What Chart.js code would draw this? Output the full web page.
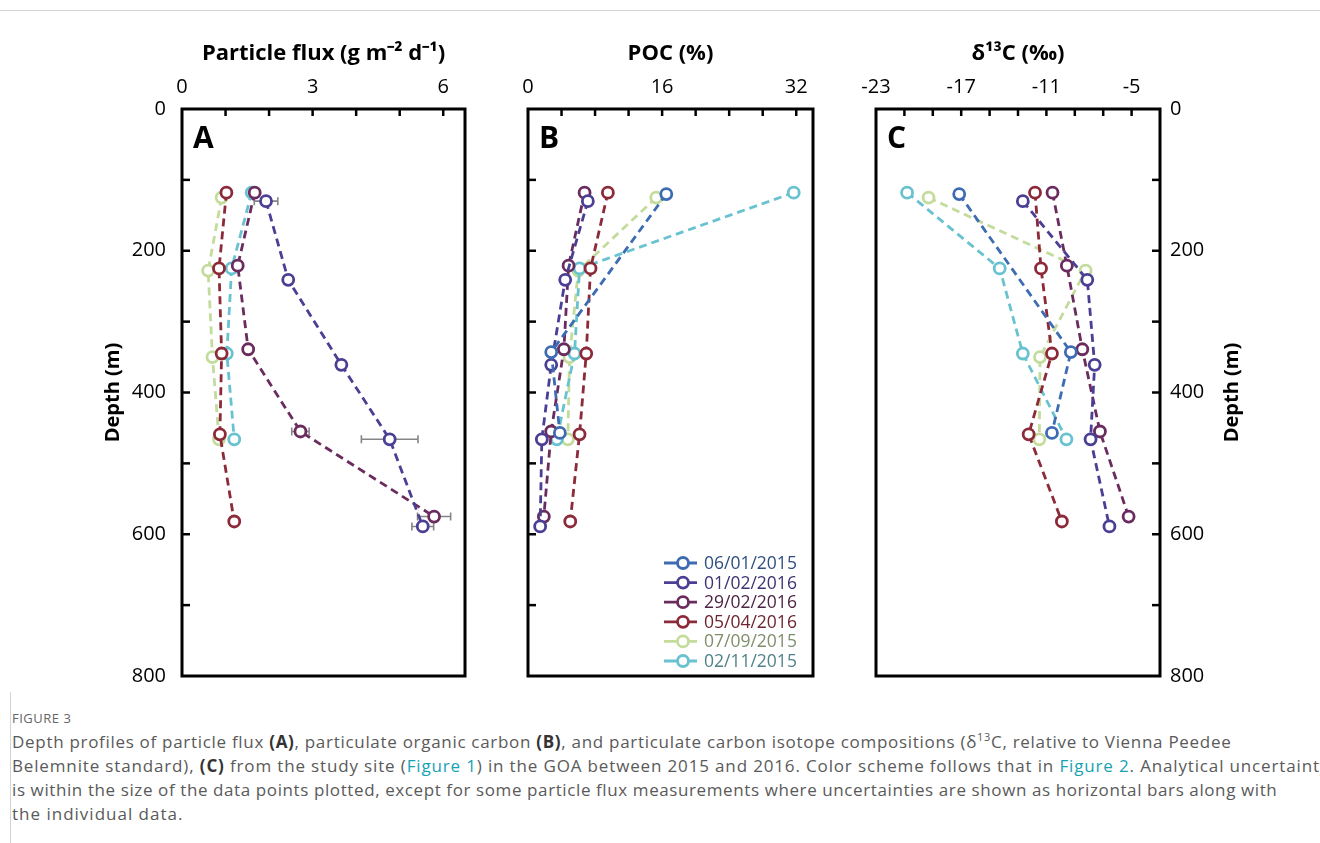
<!DOCTYPE html>
<html>
<head>
<meta charset="utf-8">
<script src="https://cdn.jsdelivr.net/npm/chart.js@4.4.1/dist/chart.umd.min.js"></script>
<style>
  body { margin: 0; background: #fff; }
  #page { position: relative; width: 1320px; height: 843px; overflow: hidden; font-family: "Open Sans", sans-serif; }
  #page canvas { position: absolute; }
  .topline { position: absolute; left: 0; top: 10px; width: 1320px; height: 1px; background: #d4d4d4; }
  .leftline { position: absolute; left: 10px; top: 692px; width: 1px; height: 151px; background: #d4d4d4; }
  .figno { position: absolute; left: 12px; top: 709px; font-size: 13px; color: #666; letter-spacing: 0.5px; }
  .caption { position: absolute; left: 12px; top: 730px; font-size: 17px; line-height: 24px; color: #5a5a5a; white-space: nowrap; letter-spacing: 0.7px; }
  .caption span { display: block; height: 24px; }
  .caption b { color: #333; }
  .caption a { color: #17a2b4; text-decoration: none; }
</style>
</head>
<body>
<div id="page">
  <div class="topline"></div>
  <div class="leftline"></div>
  <canvas id="chartA" width="400" height="674" style="left:80px;top:30px"></canvas>
  <canvas id="chartB" width="350" height="674" style="left:480px;top:30px"></canvas>
  <canvas id="chartC" width="420" height="668" style="left:840px;top:30px"></canvas>
  <div class="figno">FIGURE 3</div>
  <div class="caption">
    <span>Depth profiles of particle flux <b>(A)</b>, particulate organic carbon <b>(B)</b>, and particulate carbon isotope compositions (δ<sup style="font-size:11px;line-height:0">13</sup>C, relative to Vienna Peedee</span>
    <span style="letter-spacing:0.85px">Belemnite standard), <b>(C)</b> from the study site (<a>Figure 1</a>) in the GOA between 2015 and 2016. Color scheme follows that in <a>Figure 2</a>. Analytical uncertainty</span>
    <span style="letter-spacing:0.6px">is within the size of the data points plotted, except for some particle flux measurements where uncertainties are shown as horizontal bars along with</span>
    <span style="letter-spacing:1px">the individual data.</span>
  </div>
</div>
<script>
// sampling dates (legend order)
const seriesLabels = ["06/01/2015", "01/02/2016", "29/02/2016", "05/04/2016", "07/09/2015", "02/11/2015"];
const lineColors = ["#3d6cb3", "#4a3f94", "#6a2c5e", "#8c2a3a", "#c3dc9c", "#68c2cf"];
const legendTextColors = ["#2d4f80", "#3b3373", "#4e2446", "#6e2431", "#7f8f6c", "#4f8389"];
const drawOrder = [0, 1, 2, 3, 5, 4];

// trap depths (m) per cruise
const depthJan15 = [120, 343, 457];
const depthFeb1 = [130, 241, 361, 466, 589];
const depthFeb29 = [118, 221, 339, 455, 575];
const depthApr = [118, 225, 345, 459, 582];
const depthSep = [125, 228, 350, 466];
const depthNov = [118, 225, 345, 466];

// A: particle flux (g m-2 d-1), with uncertainty
const fluxJan15 = null;
const fluxFeb1 = [1.93, 2.44, 3.66, 4.77, 5.53];
const fluxFeb29 = [1.67, 1.28, 1.52, 2.72, 5.79];
const fluxApr = [1.02, 0.85, 0.91, 0.87, 1.2];
const fluxSep = [0.91, 0.6, 0.7, 0.85];
const fluxNov = [1.6, 1.14, 1.03, 1.2];
const fluxErrFeb1 = [0.27, 0, 0, 0.65, 0.25];
const fluxErrFeb29 = [0, 0, 0, 0.2, 0.38];

// B: POC (%)
const pocJan15 = [16.5, 2.77, 3.8];
const pocFeb1 = [7.14, 4.44, 2.77, 1.65, 1.45];
const pocFeb29 = [6.75, 4.84, 4.28, 2.77, 1.89];
const pocApr = [9.53, 7.46, 6.95, 6.15, 5.04];
const pocSep = [15.3, 6.0, 4.95, 4.76];
const pocNov = [31.7, 6.15, 5.55, 3.44];

// C: d13C (permil)
const d13cJan15 = [-17.14, -9.28, -10.61];
const d13cFeb1 = [-12.66, -8.12, -7.6, -7.89, -6.56];
const d13cFeb29 = [-10.57, -9.56, -8.47, -7.23, -5.21];
const d13cApr = [-11.8, -11.38, -10.61, -12.25, -9.91];
const d13cSep = [-19.3, -8.24, -11.45, -11.5];
const d13cNov = [-20.81, -14.29, -12.66, -9.59];

// axis ticks
const fluxTicks = [0, 3, 6];
const pocTicks = [0, 16, 32];
const d13cTicks = [-23, -17, -11, -5];
const depthTicks = [0, 200, 400, 600, 800];

const depths = [depthJan15, depthFeb1, depthFeb29, depthApr, depthSep, depthNov];
const FONT = "'Open Sans', sans-serif";

function makeDatasets(values, errors) {
  const sets = [];
  values.forEach((vals, i) => {
    if (!vals) return;
    sets.push({
      label: seriesLabels[i],
      data: vals.map((v, k) => ({ x: v, y: depths[i][k] })),
      errors: errors ? errors[i] : null,
      order: drawOrder[i],
      showLine: true,
      borderColor: lineColors[i],
      borderWidth: 2.8,
      borderDash: [8, 5],
      pointRadius: 5.5,
      pointHoverRadius: 5.5,
      pointBorderWidth: 2.8,
      pointBorderColor: lineColors[i],
      pointBackgroundColor: "#fff",
    });
  });
  return sets;
}

// box and inward ticks
const frame = {
  id: "frame",
  afterDatasetsDraw(chart, args, opts) {
    const { ctx, chartArea: a } = chart;
    ctx.save();
    ctx.strokeStyle = "#000";
    ctx.lineWidth = 2.5;
    const x = chart.scales.x;
    x.ticks.forEach((t) => {
      if (t.value <= x.min || t.value >= x.max) return;
      const px = x.getPixelForValue(t.value);
      ctx.beginPath();
      ctx.moveTo(px, a.top);
      ctx.lineTo(px, a.top + 7);
      ctx.stroke();
    });
    const y = chart.scales.y;
    const right = opts.side === "right";
    y.ticks.forEach((t) => {
      if (t.value <= y.min || t.value >= y.max) return;
      const py = y.getPixelForValue(t.value);
      ctx.beginPath();
      ctx.moveTo(right ? a.right : a.left, py);
      ctx.lineTo(right ? a.right - 8 : a.left + 8, py);
      ctx.stroke();
    });
    ctx.lineWidth = 3;
    ctx.strokeRect(a.left, a.top, a.right - a.left, a.bottom - a.top);
    // panel letter
    ctx.fillStyle = "#000";
    ctx.font = "bold 30px " + FONT;
    ctx.textBaseline = "alphabetic";
    ctx.fillText(opts.letter, a.left + 11, a.top + 39);
    ctx.restore();
  },
};

// horizontal uncertainty bars
const errorBars = {
  id: "errorBars",
  beforeDatasetsDraw(chart) {
    const { ctx } = chart;
    const x = chart.scales.x, y = chart.scales.y;
    ctx.save();
    ctx.strokeStyle = "#858585";
    ctx.lineWidth = 1.6;
    chart.data.datasets.forEach((ds) => {
      if (!ds.errors) return;
      ds.data.forEach((p, k) => {
        const e = ds.errors[k];
        if (!e) return;
        const x1 = x.getPixelForValue(p.x - e), x2 = x.getPixelForValue(p.x + e);
        const py = y.getPixelForValue(p.y);
        ctx.beginPath();
        ctx.moveTo(x1, py); ctx.lineTo(x2, py);
        ctx.moveTo(x1, py - 4); ctx.lineTo(x1, py + 4);
        ctx.moveTo(x2, py - 4); ctx.lineTo(x2, py + 4);
        ctx.stroke();
      });
    });
    ctx.restore();
  },
};

// legend inside panel B
const insideLegend = {
  id: "insideLegend",
  afterDraw(chart) {
    const { ctx, chartArea: a } = chart;
    ctx.save();
    ctx.font = "17.5px " + FONT;
    ctx.textBaseline = "middle";
    seriesLabels.forEach((lab, i) => {
      const yy = a.top + 454 + i * 19.6;
      const x0 = a.left + 136;
      ctx.strokeStyle = lineColors[i];
      ctx.lineWidth = 2.8;
      ctx.beginPath();
      ctx.moveTo(x0, yy); ctx.lineTo(x0 + 33, yy);
      ctx.stroke();
      ctx.beginPath();
      ctx.arc(x0 + 19, yy, 5.5, 0, Math.PI * 2);
      ctx.fillStyle = "#fff";
      ctx.fill();
      ctx.stroke();
      ctx.fillStyle = legendTextColors[i];
      ctx.fillText(lab, x0 + 40, yy + 1);
    });
    ctx.restore();
  },
};

// right-hand depth title, reading bottom to top
const rightTitle = {
  id: "rightTitle",
  afterDraw(chart) {
    const { ctx, chartArea: a } = chart;
    ctx.save();
    ctx.translate(a.right + 72, (a.top + a.bottom) / 2);
    ctx.rotate(-Math.PI / 2);
    ctx.font = "bold 20px " + FONT;
    ctx.fillStyle = "#000";
    ctx.textAlign = "center";
    ctx.textBaseline = "middle";
    ctx.fillText("Depth (m)", 0, 0);
    ctx.restore();
  },
};

function xAxis(title, min, max, step, labels) {
  return {
    type: "linear",
    position: "top",
    min: min,
    max: max,
    grid: { display: false, drawTicks: false },
    border: { display: false },
    title: { display: true, text: title, color: "#000", font: { family: FONT, size: 22, weight: "bold" }, padding: { top: 11, bottom: 0 } },
    ticks: {
      stepSize: step,
      includeBounds: false,
      autoSkip: false,
      maxRotation: 0,
      padding: 10,
      color: "#000",
      font: { family: FONT, size: 20 },
      callback: (v) => (labels.includes(v) ? String(v) : ""),
    },
    afterFit: (s) => { s.height = 79; },
  };
}

function yAxis(side, width, showLabels, showTitle) {
  return {
    type: "linear",
    position: side,
    reverse: true,
    min: 0,
    max: 800,
    grid: { display: false, drawTicks: false },
    border: { display: false },
    title: { display: showTitle, text: "Depth (m)", color: "#000", font: { family: FONT, size: 20, weight: "bold" }, padding: { top: 21, bottom: 0 } },
    ticks: {
      stepSize: 100,
      autoSkip: false,
      padding: side === "left" ? 16 : 10,
      color: "#000",
      font: { family: FONT, size: 20 },
      callback: (v) => (showLabels && depthTicks.includes(v) ? String(v) : ""),
    },
    afterFit: (s) => { s.width = width; },
  };
}

function panel(id, datasets, x, y, padding, frameOpts, extra) {
  return new Chart(document.getElementById(id), {
    type: "scatter",
    data: { datasets: datasets },
    options: {
      responsive: false,
      animation: false,
      devicePixelRatio: 1,
      layout: { padding: padding },
      scales: { x: x, y: y },
      plugins: { legend: { display: false }, tooltip: { enabled: false }, frame: frameOpts },
    },
    plugins: [errorBars, frame].concat(extra || []),
  });
}

panel(
  "chartA",
  makeDatasets([fluxJan15, fluxFeb1, fluxFeb29, fluxApr, fluxSep, fluxNov], [null, fluxErrFeb1, fluxErrFeb29, null, null, null]),
  xAxis("Particle flux (g m\u207B\u00B2 d\u207B\u00B9)", 0, 6.5, 1, fluxTicks),
  yAxis("left", 102, true, true),
  { top: 0, right: 15, bottom: 2, left: 0 },
  { letter: "A", side: "left" }
);

panel(
  "chartB",
  makeDatasets([pocJan15, pocFeb1, pocFeb29, pocApr, pocSep, pocNov]),
  xAxis("POC (%)", 0, 34, 4, pocTicks),
  yAxis("left", 48, false, false),
  { top: 0, right: 17, bottom: 2, left: 0 },
  { letter: "B", side: "left" },
  [insideLegend]
);

panel(
  "chartC",
  makeDatasets([d13cJan15, d13cFeb1, d13cFeb29, d13cApr, d13cSep, d13cNov]),
  xAxis("\u03B4\u00B9\u00B3C (\u2030)", -23, -3, 2, d13cTicks),
  yAxis("right", 100, true, false),
  { top: 0, right: 0, bottom: 2, left: 36 },
  { letter: "C", side: "right" },
  [rightTitle]
);
</script>
</body>
</html>
